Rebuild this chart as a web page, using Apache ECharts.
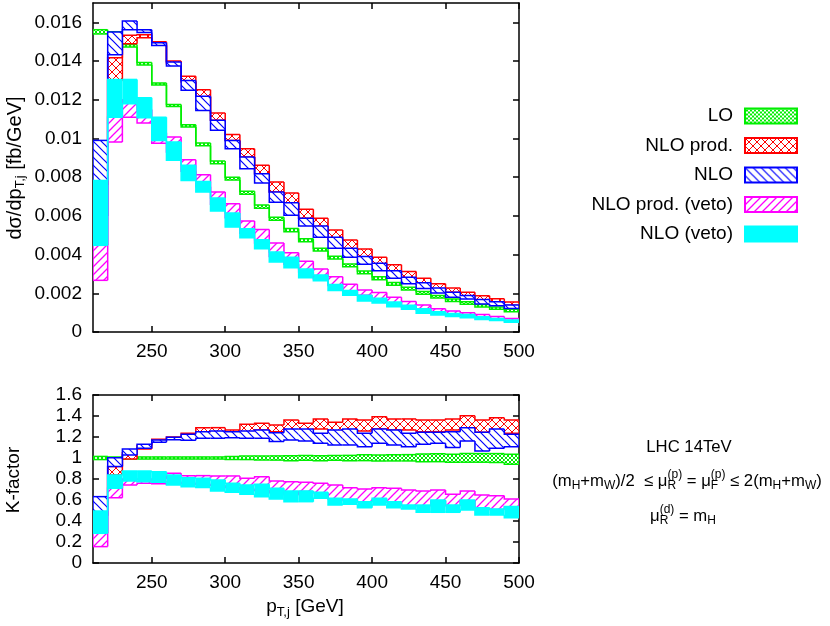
<!DOCTYPE html>
<html><head><meta charset="utf-8">
<script src="https://cdn.jsdelivr.net/npm/echarts@6/dist/echarts.min.js"></script>
<style>html,body{margin:0;padding:0;background:#fff}#c{width:830px;height:626px}</style>
</head><body><div id="c"></div>
<script>
// ---------- data ----------
const binEdges = [210,220,230,240,250,260,270,280,290,300,310,320,330,340,350,360,370,380,390,400,410,420,430,440,450,460,470,480,490,500];
const xTickValues = [250,300,350,400,450,500];
const yTopTickValues = [0,0.002,0.004,0.006,0.008,0.01,0.012,0.014,0.016];
const yKTickValues = [0,0.2,0.4,0.6,0.8,1,1.2,1.4,1.6];
const seriesNames = ['LO','NLO prod.','NLO','NLO prod. (veto)','NLO (veto)'];

// top panel: dσ/dpT,j [fb/GeV], lower / upper edge of the scale band per bin
const loTopLow  = [0.01540,0.01535,0.01472,0.01380,0.01276,0.01165,0.01059,0.00963,0.00870,0.00785,0.00712,0.00640,0.00577,0.00518,0.00466,0.00418,0.00377,0.00337,0.00301,0.00270,0.00242,0.00217,0.00195,0.00176,0.00158,0.00143,0.00129,0.00117,0.00104];
const loTopHigh = [0.01562,0.01552,0.01486,0.01392,0.01287,0.01176,0.01071,0.00976,0.00884,0.00799,0.00727,0.00656,0.00593,0.00535,0.00482,0.00433,0.00392,0.00352,0.00315,0.00285,0.00256,0.00231,0.00209,0.00189,0.00171,0.00156,0.00142,0.00129,0.00117];
const nloProdTopLow  = [0.00760,0.01300,0.01490,0.01521,0.01485,0.01386,0.01292,0.01214,0.01094,0.00990,0.00904,0.00818,0.00723,0.00668,0.00588,0.00545,0.00479,0.00429,0.00386,0.00347,0.00308,0.00278,0.00247,0.00220,0.00205,0.00186,0.00166,0.00152,0.00138];
const nloProdTopHigh = [0.00960,0.01417,0.01533,0.01536,0.01500,0.01400,0.01321,0.01252,0.01131,0.01021,0.00947,0.00861,0.00775,0.00718,0.00634,0.00588,0.00527,0.00476,0.00429,0.00386,0.00347,0.00312,0.00278,0.00249,0.00227,0.00206,0.00187,0.00172,0.00155];
const nloTopLow  = [0.00600,0.01433,0.01562,0.01547,0.01480,0.01374,0.01249,0.01145,0.01042,0.00947,0.00844,0.00770,0.00671,0.00603,0.00548,0.00490,0.00433,0.00386,0.00350,0.00317,0.00278,0.00249,0.00225,0.00202,0.00180,0.00170,0.00145,0.00135,0.00122];
const nloTopHigh = [0.00990,0.01550,0.01607,0.01562,0.01495,0.01395,0.01300,0.01218,0.01094,0.00990,0.00904,0.00818,0.00723,0.00668,0.00588,0.00548,0.00490,0.00433,0.00390,0.00355,0.00317,0.00283,0.00255,0.00227,0.00206,0.00189,0.00168,0.00156,0.00140];
const nloProdVetoTopLow  = [0.00267,0.00982,0.01110,0.01080,0.00975,0.00930,0.00830,0.00750,0.00660,0.00590,0.00510,0.00460,0.00390,0.00350,0.00310,0.00275,0.00240,0.00210,0.00190,0.00170,0.00150,0.00130,0.00115,0.00100,0.00092,0.00085,0.00078,0.00068,0.00060];
const nloProdVetoTopHigh = [0.00448,0.01110,0.01200,0.01150,0.01030,0.01007,0.00890,0.00813,0.00723,0.00663,0.00573,0.00529,0.00460,0.00410,0.00365,0.00325,0.00286,0.00247,0.00217,0.00204,0.00180,0.00157,0.00140,0.00120,0.00108,0.00100,0.00091,0.00080,0.00070];
const nloVetoTopLow  = [0.00448,0.01110,0.01180,0.01107,0.00990,0.00887,0.00783,0.00723,0.00625,0.00542,0.00487,0.00430,0.00362,0.00332,0.00280,0.00265,0.00215,0.00190,0.00160,0.00150,0.00131,0.00118,0.00097,0.00088,0.00080,0.00074,0.00065,0.00060,0.00050];
const nloVetoTopHigh = [0.00783,0.01305,0.01305,0.01211,0.01110,0.00982,0.00861,0.00778,0.00692,0.00615,0.00534,0.00477,0.00413,0.00386,0.00325,0.00295,0.00245,0.00215,0.00190,0.00175,0.00155,0.00138,0.00120,0.00105,0.00096,0.00090,0.00079,0.00070,0.00062];

// bottom panel: K-factor bands
const kLoLow  = [0.985,0.990,0.990,0.990,0.990,0.990,0.990,0.990,0.990,0.985,0.985,0.980,0.980,0.975,0.978,0.975,0.978,0.975,0.975,0.972,0.972,0.972,0.965,0.965,0.960,0.960,0.960,0.958,0.940];
const kLoHigh = [1.015,1.010,1.010,1.010,1.010,1.010,1.010,1.010,1.010,1.015,1.018,1.020,1.020,1.022,1.025,1.022,1.025,1.025,1.030,1.028,1.032,1.032,1.038,1.040,1.035,1.042,1.042,1.042,1.035];
const kNloProdLow  = [0.500,0.838,0.991,1.086,1.156,1.181,1.204,1.245,1.251,1.232,1.251,1.267,1.251,1.267,1.267,1.276,1.257,1.251,1.257,1.276,1.267,1.267,1.251,1.251,1.267,1.289,1.245,1.267,1.235];
const kNloProdHigh = [0.600,0.918,1.051,1.118,1.178,1.200,1.235,1.289,1.289,1.267,1.321,1.330,1.314,1.362,1.330,1.372,1.340,1.372,1.362,1.394,1.372,1.372,1.362,1.362,1.372,1.403,1.362,1.384,1.362];
const kNloLow  = [0.450,0.918,1.029,1.092,1.149,1.175,1.168,1.188,1.188,1.194,1.188,1.188,1.156,1.172,1.162,1.140,1.124,1.124,1.108,1.140,1.124,1.108,1.130,1.140,1.099,1.162,1.067,1.092,1.108];
const kNloHigh = [0.632,1.003,1.086,1.130,1.172,1.197,1.226,1.251,1.257,1.251,1.257,1.267,1.241,1.276,1.276,1.235,1.267,1.276,1.235,1.276,1.267,1.235,1.245,1.245,1.251,1.289,1.245,1.276,1.226];
const kNloProdVetoLow  = [0.156,0.622,0.743,0.759,0.755,0.750,0.760,0.750,0.740,0.720,0.700,0.690,0.670,0.650,0.680,0.670,0.610,0.600,0.580,0.600,0.580,0.545,0.545,0.590,0.545,0.590,0.520,0.510,0.530];
const kNloProdVetoHigh = [0.283,0.711,0.800,0.800,0.800,0.854,0.832,0.832,0.829,0.829,0.806,0.822,0.781,0.775,0.768,0.759,0.743,0.717,0.705,0.717,0.711,0.695,0.686,0.695,0.654,0.686,0.648,0.641,0.610];
const kNloVetoLow  = [0.283,0.711,0.781,0.775,0.768,0.743,0.727,0.718,0.686,0.673,0.654,0.632,0.610,0.584,0.584,0.616,0.552,0.559,0.527,0.552,0.527,0.514,0.483,0.483,0.483,0.505,0.457,0.457,0.432];
const kNloVetoHigh = [0.495,0.838,0.876,0.876,0.870,0.838,0.813,0.806,0.790,0.759,0.743,0.749,0.711,0.686,0.686,0.673,0.616,0.610,0.584,0.616,0.584,0.552,0.552,0.600,0.552,0.600,0.527,0.514,0.537];

// ---------- styling ----------
const FONT = '"Liberation Sans", Arial, Helvetica, sans-serif';
const colors = ['#00ee00', '#ff0000', '#0000ff', '#ff00ff', '#00ffff'];

function makePattern(kind, color, size, lw) {
  if (kind === 'solid') return color;
  const c = document.createElement('canvas');
  c.width = size; c.height = size;
  const g = c.getContext('2d');
  g.fillStyle = '#ffffff'; g.fillRect(0, 0, size, size);
  g.strokeStyle = color; g.lineWidth = lw;
  const back = () => { g.beginPath(); g.moveTo(-1, -1); g.lineTo(size + 1, size + 1);
    g.moveTo(-2, size - 2); g.lineTo(2, size + 2); g.moveTo(size - 2, -2); g.lineTo(size + 2, 2); g.stroke(); };
  const fwd = () => { g.beginPath(); g.moveTo(-1, size + 1); g.lineTo(size + 1, -1);
    g.moveTo(-2, 2); g.lineTo(2, -2); g.moveTo(size - 2, size + 2); g.lineTo(size + 2, size - 2); g.stroke(); };
  if (kind === 'back' || kind === 'cross') back();
  if (kind === 'fwd' || kind === 'cross') fwd();
  return { image: c, repeat: 'repeat' };
}
const fills = [
  makePattern('cross', colors[0], 4, 1),
  makePattern('cross', colors[1], 8, 1),
  makePattern('back', colors[2], 8, 1.2),
  makePattern('fwd', colors[3], 8, 1.3),
  makePattern('solid', colors[4], 8, 1)
];

function buildBins(low, high) {
  return low.map((lo, i) => [binEdges[i], binEdges[i + 1], lo, high[i],
    i ? low[i - 1] : lo, i ? high[i - 1] : high[i], i === 0 ? 1 : 0, i === low.length - 1 ? 1 : 0]);
}

function renderBand(stroke, fill) {
  return function (params, api) {
    const x0 = api.value(0), x1 = api.value(1), lo = api.value(2), hi = api.value(3);
    const pLo = api.value(4), pHi = api.value(5), first = api.value(6), last = api.value(7);
    const tl = api.coord([x0, hi]), br = api.coord([x1, lo]);
    const bl = api.coord([x0, lo]), tr = api.coord([x1, hi]);
    const ls = { stroke: stroke, lineWidth: 1.5, fill: null };
    const kids = [{ type: 'rect', z2: 0, shape: { x: tl[0], y: tl[1], width: br[0] - tl[0], height: br[1] - tl[1] }, style: { fill: fill } }];
    const top = [api.coord([x0, pHi]), tl, tr];
    if (last) top.push(br);
    const bot = [api.coord([x0, pLo]), bl, br];
    kids.push({ type: 'polyline', z2: 1, shape: { points: top }, style: ls });
    kids.push({ type: 'polyline', z2: 1, shape: { points: bot }, style: ls });
    if (first) kids.push({ type: 'polyline', z2: 1, shape: { points: [bl, tl] }, style: ls });
    return { type: 'group', children: kids };
  };
}

const topBands = [[loTopLow, loTopHigh], [nloProdTopLow, nloProdTopHigh], [nloTopLow, nloTopHigh], [nloProdVetoTopLow, nloProdVetoTopHigh], [nloVetoTopLow, nloVetoTopHigh]];
const kBands = [[kLoLow, kLoHigh], [kNloProdLow, kNloProdHigh], [kNloLow, kNloHigh], [kNloProdVetoLow, kNloProdVetoHigh], [kNloVetoLow, kNloVetoHigh]];

const series = [];
seriesNames.forEach((name, s) => {
  [[topBands[s], 0, 0], [kBands[s], 2, 2]].forEach(([band, xi, yi]) => {
    series.push({
      type: 'custom', name: name, xAxisIndex: xi, yAxisIndex: yi, z: 2 + s,
      data: buildBins(band[0], band[1]),
      encode: { x: [0, 1], y: [2, 3] },
      renderItem: renderBand(colors[s], fills[s]),
      itemStyle: { color: fills[s], borderColor: colors[s], borderWidth: 1.5 },
      clip: true, silent: true, animation: false
    });
  });
});

const axisLineStyle = { color: '#000', width: 1.5 };
function xAx(grid, pos, labels) {
  return { gridIndex: grid, type: 'value', min: 210, max: 500, position: pos,
    axisLine: { onZero: false, lineStyle: axisLineStyle },
    axisTick: { inside: true, length: 6, customValues: xTickValues, lineStyle: axisLineStyle },
    axisLabel: { show: labels, customValues: xTickValues, margin: 10, fontSize: 19, fontFamily: FONT, color: '#000' },
    splitLine: { show: false } };
}
function yAx(grid, pos, labels, max, ticks, fmt) {
  return { gridIndex: grid, type: 'value', min: 0, max: max, position: pos,
    axisLine: { onZero: false, lineStyle: axisLineStyle },
    axisTick: { inside: true, length: 6, customValues: ticks, lineStyle: axisLineStyle },
    axisLabel: { show: labels, customValues: ticks, margin: 11, fontSize: 19, fontFamily: FONT, color: '#000', formatter: fmt },
    splitLine: { show: false } };
}
const fmtNum = v => String(+(+v).toFixed(3));

// ---------- annotation text layout ----------
const mctx = document.createElement('canvas').getContext('2d');
function tw(t, size) { mctx.font = size + 'px ' + FONT; return mctx.measureText(t).width; }
const AN = 16.7, SC = 12;
function buildLine(pieces, cx, cy) {
  let w = 0;
  const widths = pieces.map(p => {
    const pw = p[0] === 'n' ? tw(p[1], AN) : p[0] === 's' ? tw(p[1], SC) : Math.max(tw(p[1], SC), tw(p[2], SC));
    w += pw; return pw;
  });
  let x = cx - w / 2;
  const els = [];
  const mk = (t, size, dy) => ({ type: 'text', x: x, y: cy + dy, style: { text: t, fontSize: size, fontFamily: FONT, fill: '#000', align: 'left', verticalAlign: 'middle' } });
  pieces.forEach((p, i) => {
    if (p[0] === 'n') els.push(mk(p[1], AN, 0));
    else if (p[0] === 's') els.push(mk(p[1], SC, 5));
    else { els.push(mk(p[1], SC, 5)); els.push(mk(p[2], SC, -6)); }
    x += widths[i];
  });
  return els;
}
const line2 = buildLine([['n', '(m'], ['s', 'H'], ['n', '+m'], ['s', 'W'], ['n', ')/2  \u2264 \u03bc'], ['st', 'R', '(p)'],
  ['n', ' = \u03bc'], ['st', 'F', '(p)'], ['n', ' \u2264 2(m'], ['s', 'H'], ['n', '+m'], ['s', 'W'], ['n', ')']], 687, 481);
const line3 = buildLine([['n', '\u03bc'], ['st', 'R', '(d)'], ['n', ' = m'], ['s', 'H']], 683, 516);

const subRich = { s: { fontSize: 13, fontFamily: FONT, fill: '#000', verticalAlign: 'bottom', lineHeight: 13 } };

const graphic = [
  { type: 'text', x: 15, y: 168, rotation: Math.PI / 2, style: { text: 'd\u03c3/dp{s|T,j} [fb/GeV]', rich: subRich, fontSize: 20, lineHeight: 24, fontFamily: FONT, fill: '#000', align: 'center', verticalAlign: 'middle' } },
  { type: 'text', x: 14, y: 480, rotation: Math.PI / 2, style: { text: 'K-factor', fontSize: 19, fontFamily: FONT, fill: '#000', align: 'center', verticalAlign: 'middle' } },
  { type: 'text', x: 305, y: 607, style: { text: 'p{s|T,j} [GeV]', rich: subRich, fontSize: 19, lineHeight: 24, fontFamily: FONT, fill: '#000', align: 'center', verticalAlign: 'middle' } },
  { type: 'text', x: 689, y: 447, style: { text: 'LHC 14TeV', fontSize: AN, fontFamily: FONT, fill: '#000', align: 'center', verticalAlign: 'middle' } }
].concat(line2, line3);

const chart = echarts.init(document.getElementById('c'), null, { renderer: 'canvas' });
chart.setOption({
  animation: false,
  backgroundColor: '#fff',
  grid: [{ left: 93, top: 3, width: 426, height: 329 }, { left: 93, top: 395, width: 426, height: 168 }],
  xAxis: [xAx(0, 'bottom', true), xAx(0, 'top', false), xAx(1, 'bottom', true), xAx(1, 'top', false)],
  yAxis: [yAx(0, 'left', true, 0.017, yTopTickValues, fmtNum), yAx(0, 'right', false, 0.017, yTopTickValues, fmtNum),
          yAx(1, 'left', true, 1.6, yKTickValues, fmtNum), yAx(1, 'right', false, 1.6, yKTickValues, fmtNum)],
  legend: { orient: 'vertical', right: 27, top: 101.5, itemWidth: 52, itemHeight: 15, itemGap: 10.5, align: 'right',
    icon: 'rect', selectedMode: false, data: seriesNames,
    textStyle: { fontSize: 19, fontFamily: FONT, color: '#000', lineHeight: 15, padding: [0, 7, 0, 0] } },
  graphic: graphic,
  series: series
});
</script>
</body></html>
